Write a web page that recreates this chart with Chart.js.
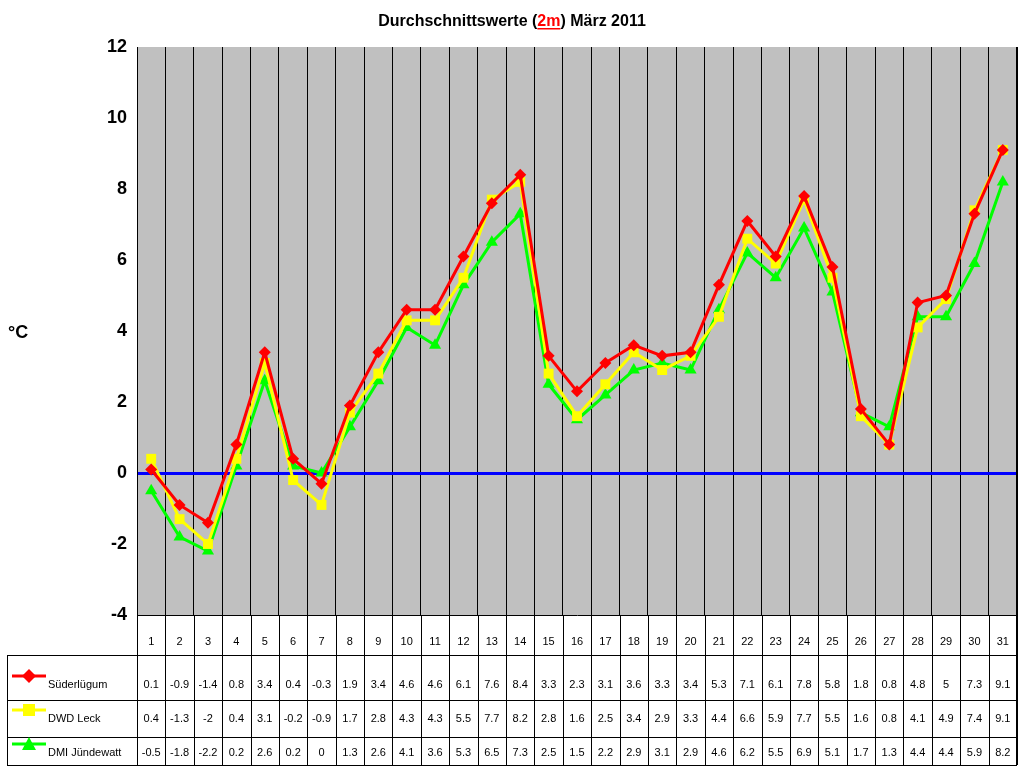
<!DOCTYPE html>
<html><head><meta charset="utf-8">
<script src="https://cdn.jsdelivr.net/npm/chart.js@4"></script>
<style>html,body{margin:0;background:#fff}#w{width:1024px;height:768px}</style>
</head><body><div id="w"><canvas id="c"></canvas></div>
<script>
const days = Array.from({length:31},(_,i)=>String(i+1));
const suederluegum = [0.1,-0.9,-1.4,0.8,3.4,0.4,-0.3,1.9,3.4,4.6,4.6,6.1,7.6,8.4,3.3,2.3,3.1,3.6,3.3,3.4,5.3,7.1,6.1,7.8,5.8,1.8,0.8,4.8,5,7.3,9.1];
const dwdLeck = [0.4,-1.3,-2,0.4,3.1,-0.2,-0.9,1.7,2.8,4.3,4.3,5.5,7.7,8.2,2.8,1.6,2.5,3.4,2.9,3.3,4.4,6.6,5.9,7.7,5.5,1.6,0.8,4.1,4.9,7.4,9.1];
const dmiJuendewatt = [-0.5,-1.8,-2.2,0.2,2.6,0.2,0,1.3,2.6,4.1,3.6,5.3,6.5,7.3,2.5,1.5,2.2,2.9,3.1,2.9,4.6,6.2,5.5,6.9,5.1,1.7,1.3,4.4,4.4,5.9,8.2];
const names = ['Süderlügum','DWD Leck','DMI Jündewatt'];
const colors = ['#ff0000','#ffff00','#00ff00'];
const markers = ['rectRot','rect','triangle'];
const series=[suederluegum,dwdLeck,dmiJuendewatt];

const extra={id:'extra',
 beforeDraw(ch){const {ctx,chartArea:a}=ch;ctx.save();ctx.fillStyle='#c0c0c0';ctx.fillRect(a.left,a.top,a.right-a.left,a.bottom-a.top);ctx.restore();},
 afterDraw(ch){
  const {ctx,chartArea:a,scales:{x}}=ch;ctx.save();
  // title
  ctx.font='bold 16px Arial';ctx.textBaseline='alphabetic';ctx.fillStyle='#000';
  const p1='Durchschnittswerte (',p2='2m',p3=') März 2011';
  const w1=ctx.measureText(p1).width,w2=ctx.measureText(p2).width,w3=ctx.measureText(p3).width;
  let sx=512-(w1+w2+w3)/2+0;const ty=26;
  ctx.fillText(p1,sx,ty);ctx.fillStyle='#ff0000';ctx.fillText(p2,sx+w1,ty);
  ctx.fillRect(sx+w1,ty+2,w2,1.5);ctx.fillStyle='#000';ctx.fillText(p3,sx+w1+w2,ty);
  ctx.font='bold 18px Arial';ctx.fillText('°C',8,338);
  // table
  const rows=[655,700,737,765];
  ctx.strokeStyle='#000';ctx.lineWidth=1;
  ctx.beginPath();
  rows.forEach(y=>{ctx.moveTo(7,y+0.5);ctx.lineTo(a.right,y+0.5);});
  ctx.moveTo(7.5,655);ctx.lineTo(7.5,765);
  const step=(a.right-a.left)/31;
  for(let i=0;i<=31;i++){const gx=Math.round(a.left+i*step)+0.5;ctx.moveTo(gx,a.bottom);ctx.lineTo(gx,765);}
  ctx.moveTo(a.right-0.5,a.top);ctx.lineTo(a.right-0.5,765);
  ctx.stroke();
  ctx.font='11px Arial';ctx.textAlign='center';ctx.fillStyle='#000';
  const ys=[684,718,752];
  days.forEach((d,i)=>{const cx=x.getPixelForValue(i);ctx.fillText(d,cx,645);
    series.forEach((s,k)=>ctx.fillText(String(s[i]),cx,ys[k]+4));});
  ctx.textAlign='left';
  names.forEach((n,k)=>{const y=ys[k]-8;ctx.strokeStyle=colors[k];ctx.lineWidth=3;ctx.beginPath();ctx.moveTo(12,y);ctx.lineTo(46,y);ctx.stroke();
    ctx.fillStyle=colors[k];ctx.beginPath();
    if(k===0){ctx.moveTo(29,y-7);ctx.lineTo(36,y);ctx.lineTo(29,y+7);ctx.lineTo(22,y);}
    else if(k===1){ctx.rect(23,y-6,12,12);}
    else{ctx.moveTo(29,y-7);ctx.lineTo(36,y+6);ctx.lineTo(22,y+6);}
    ctx.fill();ctx.fillStyle='#000';ctx.fillText(n,48,ys[k]+4);});
  ctx.restore();
 }};

new Chart(document.getElementById('c'),{
 type:'line',
 data:{labels:days,datasets:series.map((s,k)=>({label:names[k],data:s,borderColor:colors[k],backgroundColor:colors[k],borderWidth:3,pointStyle:markers[k],pointRadius:k===0?6:7,pointBorderWidth:0,tension:0}))},
 options:{responsive:true,maintainAspectRatio:false,animation:false,
  layout:{padding:{top:47,bottom:153,left:0,right:7}},
  plugins:{legend:{display:false},title:{display:false},tooltip:{enabled:false}},
  scales:{
   x:{offset:true,grid:{offset:true,color:'#000',drawTicks:false},border:{display:true,color:'#000'},ticks:{display:false}},
   y:{min:-4,max:12,afterFit(s){s.width=137;},
     ticks:{stepSize:2,color:'#000',font:{family:'Arial',size:18,weight:'bold'},padding:10},
     grid:{drawOnChartArea:true,drawTicks:false,color:c=>c.tick.value===0?'#0000ff':'rgba(0,0,0,0)',lineWidth:c=>c.tick.value===0?3:0},
     border:{color:'#000'}}
  }},
 plugins:[extra]
});
</script></body></html>
